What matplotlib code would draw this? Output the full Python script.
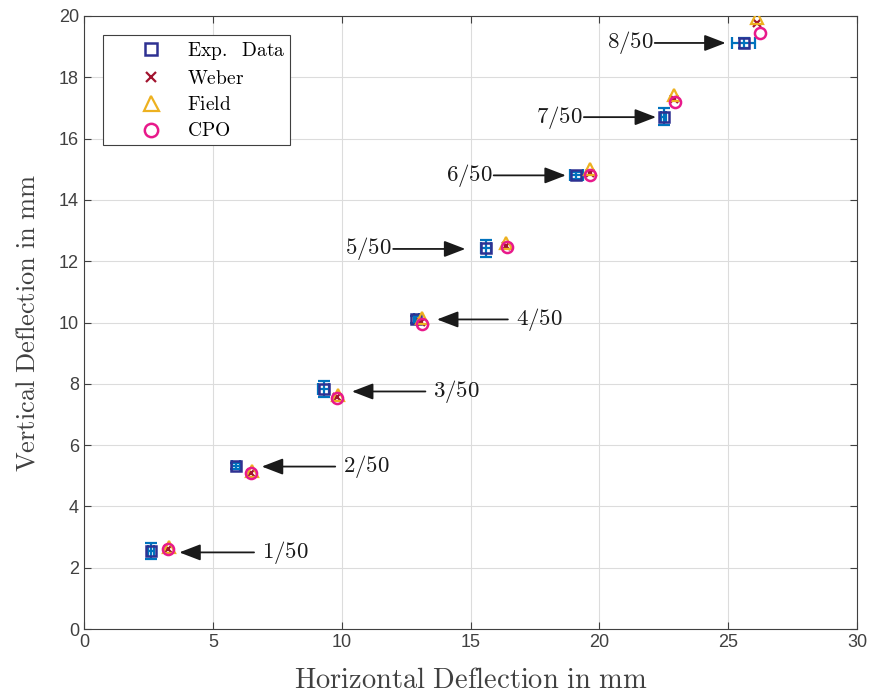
import matplotlib.pyplot as plt

plt.rcParams['mathtext.fontset'] = 'cm'
plt.rcParams['font.family'] = ['Liberation Sans', 'DejaVu Sans']

# measured data with error bars
exp_x = [2.6, 5.9, 9.3, 12.9, 15.6, 19.1, 22.5, 25.6]
exp_y = [2.55, 5.33, 7.83, 10.1, 12.42, 14.8, 16.72, 19.12]
exp_xerr = [0.1, 0.15, 0.2, 0.1, 0.2, 0.25, 0.1, 0.45]
exp_yerr = [0.27, 0.1, 0.27, 0.1, 0.27, 0.12, 0.27, 0.15]

# model predictions
weber_x = [3.25, 6.5, 9.82, 13.08, 16.36, 19.62, 22.9, 26.12]
weber_y = [2.6, 5.1, 7.57, 10.02, 12.48, 14.88, 17.3, 19.78]
field_x = [3.3, 6.52, 9.85, 13.1, 16.38, 19.62, 22.9, 26.12]
field_y = [2.66, 5.16, 7.64, 10.15, 12.6, 15.0, 17.42, 19.92]
cpo_x = [3.25, 6.5, 9.82, 13.12, 16.4, 19.65, 22.94, 26.22]
cpo_y = [2.6, 5.08, 7.54, 9.96, 12.45, 14.82, 17.2, 19.45]

# annotations: label, arrow tail x, arrow tip x, arrow y
labels = ['1/50', '2/50', '3/50', '4/50', '5/50', '6/50', '7/50', '8/50']
tail_x = [6.6, 9.75, 13.25, 16.45, 12.0, 15.9, 19.4, 22.15]
tip_x = [3.7, 6.9, 10.4, 13.7, 14.8, 18.7, 22.2, 24.9]
arrow_y = [2.5, 5.3, 7.75, 10.1, 12.4, 14.8, 16.7, 19.12]

fig = plt.figure(figsize=(8.73, 6.92), dpi=100)
ax = fig.add_axes([0.0962, 0.091, 0.8855, 0.8859])

ax.errorbar(exp_x, exp_y, xerr=exp_xerr, yerr=exp_yerr, fmt='none',
            ecolor='#0072BD', elinewidth=1.6, capsize=4, capthick=1.6, zorder=3)
ax.plot(exp_x, exp_y, 's', mfc='none', mec='#2E3192', mew=1.8, ms=7,
        label=r'$\mathrm{Exp.\ \ Data}$', zorder=4)
ax.plot(weber_x, weber_y, 'x', color='#A2142F', mew=1.6, ms=6,
        label=r'$\mathrm{Weber}$', zorder=4)
ax.plot(field_x, field_y, '^', mfc='none', mec='#EDB120', mew=1.6, ms=9,
        label=r'$\mathrm{Field}$', zorder=4)
ax.plot(cpo_x, cpo_y, 'o', mfc='none', mec='#E8198B', mew=1.8, ms=8,
        label=r'$\mathrm{CPO}$', zorder=5)

for lab, tx, hx, y in zip(labels, tail_x, tip_x, arrow_y):
    ha = 'left' if tx > hx else 'right'
    dx = 0.3 if tx > hx else -0.05
    ax.annotate('', xy=(hx, y), xytext=(tx, y),
                arrowprops=dict(arrowstyle='-|>,head_length=0.65,head_width=0.25',
                                color='#1a1a1a', lw=1.3, mutation_scale=20,
                                shrinkA=0, shrinkB=0), zorder=6)
    ax.text(tx + dx, y, r'$\mathrm{' + lab + '}$', ha=ha, va='center',
            fontsize=16.5, color='#1a1a1a')

ax.set_xlim(0, 30)
ax.set_ylim(0, 20)
ax.set_xticks(range(0, 31, 5))
ax.set_yticks(range(0, 21, 2))
ax.grid(True, color='#dcdcdc', lw=0.8)
ax.set_axisbelow(True)
ax.tick_params(direction='in', labelsize=13, colors='#404040', length=5,
               top=True, right=True)
for s in ax.spines.values():
    s.set_color('#404040')
    s.set_linewidth(0.8)

ax.set_xlabel(r'$\mathrm{Horizontal\ Deflection\ in\ mm}$', fontsize=20.5,
              color='#404040', labelpad=12)
ax.set_ylabel(r'$\mathrm{Vertical\ Deflection\ in\ mm}$', fontsize=19,
              color='#404040', labelpad=14)

leg = ax.legend(loc='upper left', bbox_to_anchor=(0.0246, 0.969), fontsize=14,
                fancybox=False, framealpha=1, edgecolor='#404040',
                handletextpad=-0.35, borderpad=0.25, labelspacing=0.42,
                handlelength=4.4, borderaxespad=0, markerscale=1.2)
leg.get_frame().set_linewidth(0.8)

fig.savefig('out.png', dpi=100)
